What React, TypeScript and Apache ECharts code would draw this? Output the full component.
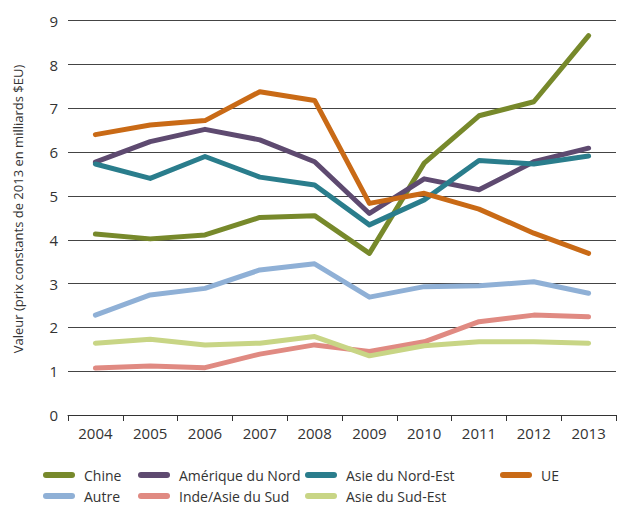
import React, { useEffect, useRef } from "react";
import * as echarts from "echarts";

const years = ["2004", "2005", "2006", "2007", "2008", "2009", "2010", "2011", "2012", "2013"];
const chine = [4.13, 4.02, 4.11, 4.51, 4.55, 3.69, 5.75, 6.83, 7.15, 8.66];
const ameriqueNord = [5.77, 6.24, 6.52, 6.28, 5.78, 4.6, 5.39, 5.14, 5.78, 6.09];
const asieNordEst = [5.73, 5.4, 5.9, 5.43, 5.25, 4.34, 4.91, 5.81, 5.73, 5.91];
const ue = [6.4, 6.62, 6.72, 7.38, 7.18, 4.83, 5.06, 4.7, 4.15, 3.69];
const autre = [2.28, 2.74, 2.89, 3.31, 3.45, 2.69, 2.93, 2.95, 3.04, 2.78];
const indeAsieSud = [1.07, 1.12, 1.08, 1.39, 1.6, 1.45, 1.67, 2.13, 2.28, 2.24];
const asieSudEst = [1.64, 1.73, 1.6, 1.64, 1.79, 1.35, 1.58, 1.67, 1.67, 1.64];
const yTitle = "Valeur (prix constants de 2013 en milliards $EU)";

const seriesDefs = [
  { name: "Chine", data: chine, color: "#77892B" },
  { name: "Amérique du Nord", data: ameriqueNord, color: "#5E4A70" },
  { name: "Asie du Nord-Est", data: asieNordEst, color: "#2A7D8C" },
  { name: "UE", data: ue, color: "#C96A16" },
  { name: "Autre", data: autre, color: "#8FB0D6" },
  { name: "Inde/Asie du Sud", data: indeAsieSud, color: "#E08A82" },
  { name: "Asie du Sud-Est", data: asieSudEst, color: "#C8D585" },
];

const FONT = "'Open Sans', sans-serif";
const capsule = "path://M3,0 L29,0 A3,3 0 0 1 29,6 L3,6 A3,3 0 0 1 3,0 Z";

export default function App() {
  const ref = useRef<HTMLDivElement>(null);
  useEffect(() => {
    if (!ref.current) return;
    const chart = echarts.init(ref.current, null, { renderer: "svg" });
    const legendBase = {
      orient: "vertical",
      icon: capsule,
      itemWidth: 32,
      itemHeight: 6,
      itemGap: 7,
      top: 468,
      padding: 0,
      textStyle: { fontFamily: FONT, fontSize: 14, color: "#333", padding: [0, 0, 0, 4] },
    };
    chart.setOption({
      animation: false,
      textStyle: { fontFamily: FONT },
      grid: { left: 68, right: 3, top: 20.7, bottom: 94 },
      legend: [
        { ...legendBase, left: 43, data: ["Chine", "Autre"] },
        { ...legendBase, left: 138, data: ["Amérique du Nord", "Inde/Asie du Sud"] },
        { ...legendBase, left: 305, data: ["Asie du Nord-Est", "Asie du Sud-Est"] },
        { ...legendBase, left: 500, data: ["UE"] },
      ],
      graphic: [
        {
          type: "text",
          x: 18,
          y: 209,
          rotation: Math.PI / 2,
          style: {
            text: yTitle,
            fontFamily: FONT,
            fontSize: 13,
            fill: "#333",
            align: "center",
            verticalAlign: "middle",
          },
        },
      ],
      xAxis: {
        type: "category",
        data: years,
        boundaryGap: true,
        axisLine: { lineStyle: { color: "#333", width: 1 } },
        axisTick: { show: true, length: 6, lineStyle: { color: "#333" } },
        axisLabel: { fontFamily: FONT, fontSize: 15, color: "#333", margin: 10 },
        splitLine: { show: false },
      },
      yAxis: {
        type: "value",
        min: 0,
        max: 9,
        interval: 1,
        axisLine: { show: false },
        axisTick: { show: false },
        axisLabel: { fontFamily: FONT, fontSize: 15, color: "#333", margin: 10 },
        splitLine: { lineStyle: { color: "#444", width: 1 } },
      },
      series: seriesDefs.map((s) => ({
        name: s.name,
        type: "line",
        data: s.data,
        symbol: "none",
        color: s.color,
        lineStyle: { width: 5, color: s.color, cap: "round", join: "round" },
      })),
    });
    return () => chart.dispose();
  }, []);
  return <div ref={ref} style={{ width: 619, height: 509, position: "absolute", left: 0, top: 0 }} />;
}
